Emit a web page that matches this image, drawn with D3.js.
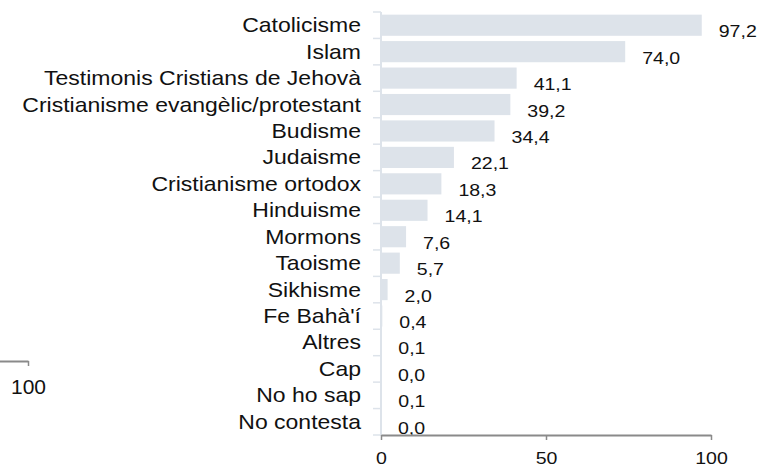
<!DOCTYPE html>
<html lang="ca">
<head>
<meta charset="UTF-8">
<script src="https://d3js.org/d3.v7.min.js"></script>
<style>
    body { margin: 0; background: #fff; }
    text { font-family: "Liberation Sans", Arial, sans-serif; fill: #111; }
</style>
</head>
<body>
<svg width="763" height="468" id="chart"></svg>
<script>
    // data
    const categories = [
        "Catolicisme", "Islam", "Testimonis Cristians de Jehovà",
        "Cristianisme evangèlic/protestant", "Budisme", "Judaisme",
        "Cristianisme ortodox", "Hinduisme", "Mormons", "Taoisme",
        "Sikhisme", "Fe Bahà'í", "Altres", "Cap", "No ho sap", "No contesta"
    ];
    const values = [97.2, 74.0, 41.1, 39.2, 34.4, 22.1, 18.3, 14.1, 7.6, 5.7, 2.0, 0.4, 0.1, 0.0, 0.1, 0.0];
    const xTicks = [0, 50, 100];
    const leftTicks = [100]; // cut-off axis of the neighbouring panel

    const svg = d3.select("#chart");
    const sx = 1.15; // text in the original is stretched horizontally
    const cat = d3.formatLocale({decimal: ",", thousands: ".", grouping: [3], currency: ["", "€"]});
    const fmt = cat.format(".1f");

    const x = d3.scaleLinear().domain([0, 100]).range([381, 711]);
    const y = d3.scaleBand().domain(categories).range([12, 435])
        .paddingInner(0.2).paddingOuter(0.1);
    const gap = (y.step() - y.bandwidth()) / 2;

    // bars
    svg.selectAll(".bar").data(values).enter().append("rect")
        .attr("class", "bar")
        .attr("x", x(0))
        .attr("y", (d, i) => y(categories[i]))
        .attr("width", d => x(d) - x(0))
        .attr("height", y.bandwidth())
        .attr("fill", "#dde3ea");

    // y axis line and ticks between bands
    svg.append("line")
        .attr("x1", x(0)).attr("x2", x(0))
        .attr("y1", y.range()[0]).attr("y2", y.range()[1])
        .attr("stroke", "#dde3ea").attr("stroke-width", 2);
    const bounds = categories.map(c => y(c) - gap).concat([y.range()[1]]);
    svg.selectAll(".ytick").data(bounds).enter().append("line")
        .attr("x1", x(0) - 8).attr("x2", x(0))
        .attr("y1", d => d).attr("y2", d => d)
        .attr("stroke", "#dde3ea").attr("stroke-width", 1.5);

    // category labels
    svg.selectAll(".lab").data(categories).enter().append("text")
        .attr("transform", d => `translate(361,${y(d) + y.bandwidth() / 2 + 7}) scale(${sx},1)`)
        .attr("text-anchor", "end")
        .style("font-size", "20px")
        .text(d => d);

    // value labels
    svg.selectAll(".val").data(values).enter().append("text")
        .attr("transform", (d, i) => `translate(${x(d) + 17},${y(categories[i]) + y.bandwidth() / 2 + 12}) scale(${sx},1)`)
        .style("font-size", "17px")
        .text(d => fmt(d));

    // x axis
    const xAxis = svg.append("g")
        .attr("transform", "translate(0,435)")
        .call(d3.axisBottom(x).tickValues(xTicks).tickSize(5).tickPadding(12).tickSizeOuter(0));
    xAxis.select(".domain").attr("stroke", "#8a8a8a").attr("stroke-width", 2);
    xAxis.selectAll(".tick line").attr("stroke", "#8a8a8a").attr("stroke-width", 1.5);
    xAxis.selectAll(".tick text")
        .attr("transform", `scale(${sx},1)`)
        .style("font-size", "17px")
        .style("font-family", "'Liberation Sans', Arial, sans-serif")
        .attr("fill", "#111");

    // cut-off axis on the left
    const xl = d3.scaleLinear().domain([0, 100]).range([-300, 28]);
    const leftAxis = svg.append("g")
        .attr("transform", "translate(0,361)")
        .call(d3.axisBottom(xl).tickValues(leftTicks).tickSize(5).tickPadding(14).tickSizeOuter(0));
    leftAxis.select(".domain").attr("stroke", "#8a8a8a").attr("stroke-width", 2);
    leftAxis.selectAll(".tick line").attr("stroke", "#8a8a8a").attr("stroke-width", 1.5);
    leftAxis.selectAll(".tick text")
        .attr("transform", "scale(1.05,1)")
        .style("font-size", "20px")
        .style("font-family", "'Liberation Sans', Arial, sans-serif")
        .attr("fill", "#111");
</script>
</body>
</html>
